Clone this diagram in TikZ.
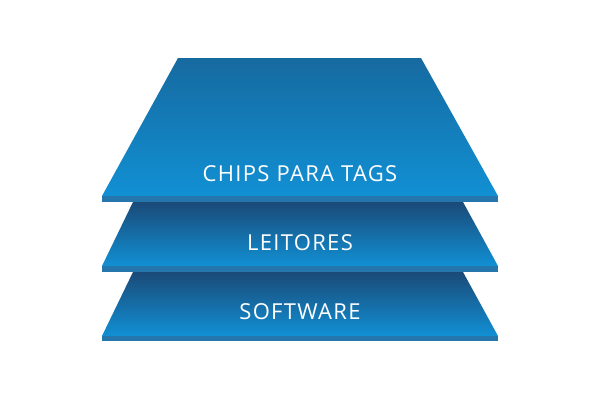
\documentclass[tikz,border=0pt]{standalone}
\usepackage{fontspec}
\setmainfont[LetterSpace=6]{Open Sans}
\definecolor{layertop}{HTML}{166AA0}
\definecolor{layerdark}{HTML}{1A4A78}
\definecolor{layerlight}{HTML}{1190D4}
\definecolor{layerrim}{HTML}{2576AC}
\tikzset{
  rim/.style={fill=layerrim},
  label/.style={text=white, font=\fontsize{22}{26}\selectfont}
}
\begin{document}
\begin{tikzpicture}[x=1pt, y=-1pt]
  \useasboundingbox (0,0) rectangle (600,400);
  % top layer
  \shade[top color=layertop, bottom color=layerlight] (178,58) -- (421,58) -- (498,196) -- (102,196) -- cycle;
  \fill[rim] (102,196) rectangle (498,202);
  % middle layer
  \shade[top color=layerdark, bottom color=layerlight] (133,202) -- (463,202) -- (498,266) -- (102,266) -- cycle;
  \fill[rim] (102,266) rectangle (498,272);
  % bottom layer
  \shade[top color=layerdark, bottom color=layerlight] (133,272) -- (463,272) -- (498,336) -- (102,336) -- cycle;
  \fill[rim] (102,336) rectangle (498,341);
  \node[label] (chips) at (300,174) {CHIPS PARA TAGS};
  \node[label] (leitores) at (300,243) {LEITORES};
  \node[label] (software) at (300,312) {SOFTWARE};
\end{tikzpicture}
\end{document}
